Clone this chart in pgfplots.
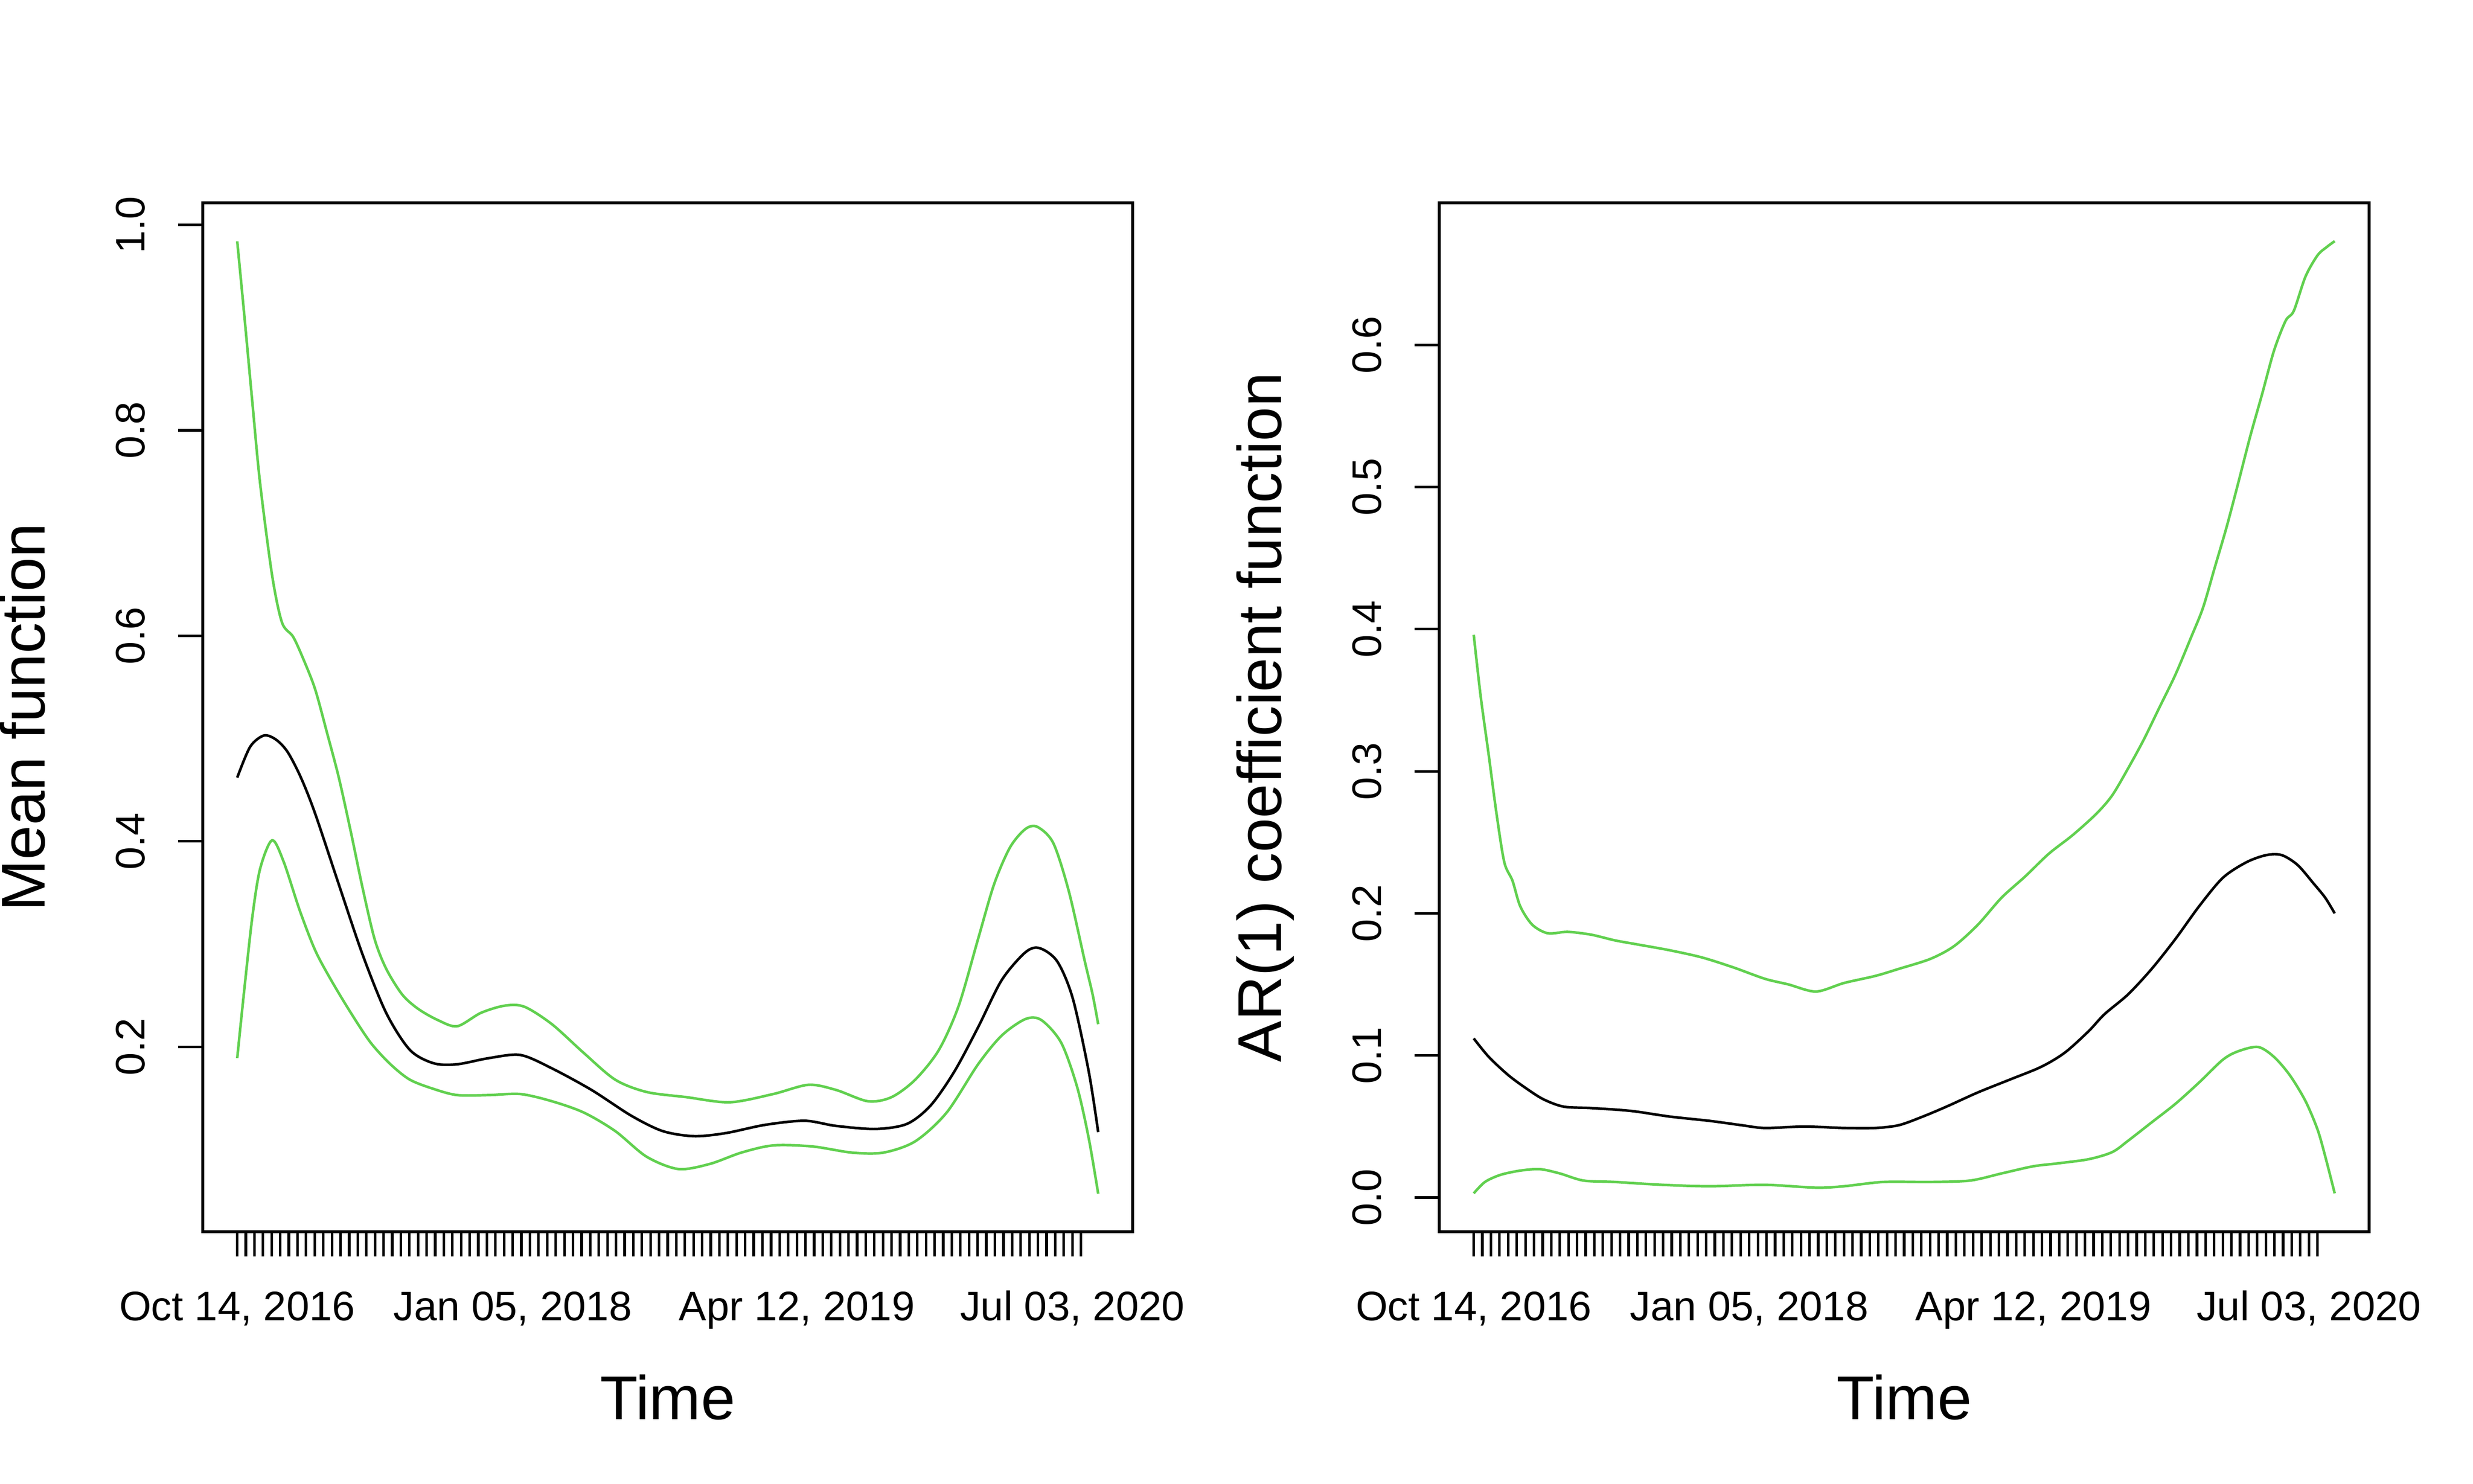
\documentclass[border=0pt]{standalone}
\usepackage{fontspec}
\setmainfont{Liberation Sans}
\usepackage{pgfplots}
\pgfplotsset{compat=1.18}
\definecolor{rgreen}{HTML}{61D04F}

% x is in weeks since Oct 14, 2016 (ticks every two weeks)
\pgfplotsset{rpanel/.style={
  scale only axis, width=270.72bp, height=299.52bp, anchor=south west,
  xmin=-8, xmax=208,
  axis line style={line width=0.75bp},
  every tick/.style={black, line width=0.75bp},
  tick align=outside, xtick pos=left, ytick pos=left,
  major tick length=7.2bp, minor tick length=7.2bp,
  xtick={0,64,130,194},
  xticklabels={{Oct 14, 2016},{Jan 05, 2018},{Apr 12, 2019},{Jul 03, 2020}},
  minor xtick={0,2,...,196},
  tick label style={font=\fontsize{12bp}{14.4bp}\selectfont, inner sep=0pt},
  xticklabel style={anchor=base, yshift=-18.7bp},
  yticklabel style={anchor=base, xshift=-9.7bp, rotate=90},
  label style={font=\fontsize{18bp}{21.6bp}\selectfont, inner sep=0pt},
  xlabel={Time},
  xlabel style={at={(axis description cs:0.5,-0.1823)}, anchor=base},
  ylabel style={at={(axis description cs:-0.1699,0.5)}, anchor=base},
  every axis plot/.append style={line width=0.75bp, smooth, no markers},
}}

\begin{document}
\begin{tikzpicture}
\useasboundingbox (0,0) rectangle (720bp,432bp);

\begin{axis}[rpanel, at={(59.04bp,73.44bp)},
  ymin=0.020, ymax=1.0215,
  ytick={0.2,0.4,0.6,0.8,1.0},
  yticklabels={0.2,0.4,0.6,0.8,1.0},
  ylabel={Mean function}]
% mean
\addplot[black] coordinates {
(0.0,0.462) (3.0,0.492) (6.2,0.503) (9.0,0.499) (11.7,0.487) (14.8,0.462)
(18.1,0.427) (23.6,0.358) (29.1,0.290) (34.6,0.233) (40.1,0.197)
(45.6,0.184) (51.1,0.183) (58.5,0.189) (65.8,0.192) (73.1,0.179)
(82.3,0.158) (91.5,0.133) (98.8,0.118) (106.1,0.113) (113.5,0.116)
(122.6,0.124) (131.8,0.128) (139.1,0.123) (148.3,0.120) (155.6,0.125)
(161.1,0.143) (166.6,0.176) (172.1,0.219) (177.6,0.265) (183.1,0.292)
(186.4,0.296) (190.5,0.283) (194.1,0.247) (197.8,0.176) (200.0,0.117)
};
% upper band
\addplot[rgreen] coordinates {
(0.0,0.984) (1.6,0.914) (3.5,0.828) (5.3,0.749) (8.1,0.659) (10.4,0.613)
(13.0,0.599) (15.4,0.577) (18.1,0.548) (20.9,0.505) (23.6,0.462)
(26.4,0.409) (29.1,0.355) (31.9,0.305) (34.6,0.276) (38.3,0.251)
(42.0,0.237) (46.6,0.226) (51.1,0.220) (56.6,0.233) (62.1,0.240)
(66.7,0.239) (73.1,0.222) (80.5,0.194) (87.8,0.168) (95.1,0.156)
(104.3,0.151) (114.4,0.146) (124.5,0.154) (132.7,0.163) (139.1,0.158)
(146.5,0.147) (152.0,0.151) (157.5,0.168) (163.0,0.197) (167.6,0.240)
(172.1,0.305) (175.8,0.358) (179.5,0.394) (183.1,0.412) (185.9,0.414)
(189.6,0.398) (193.2,0.351) (196.9,0.283) (198.7,0.251) (200.0,0.222)
};
% lower band
\addplot[rgreen] coordinates {
(0.0,0.189) (1.6,0.254) (3.5,0.326) (5.3,0.373) (8.1,0.401) (10.8,0.380)
(14.5,0.333) (18.1,0.294) (21.8,0.265) (26.4,0.233) (31.0,0.204)
(35.6,0.183) (40.1,0.168) (45.6,0.159) (51.1,0.153) (58.5,0.153)
(65.8,0.154) (73.1,0.147) (80.5,0.136) (87.8,0.118) (95.1,0.093)
(102.5,0.081) (109.8,0.086) (117.1,0.097) (124.5,0.104) (133.6,0.103)
(142.8,0.097) (150.1,0.097) (157.5,0.108) (164.8,0.136) (172.1,0.183)
(177.6,0.211) (183.1,0.227) (186.8,0.226) (191.4,0.204) (195.1,0.161)
(197.8,0.111) (200.0,0.057)
};
\end{axis}

\begin{axis}[rpanel, at={(419.04bp,73.44bp)},
  ymin=-0.024, ymax=0.700,
  ytick={0,0.1,0.2,0.3,0.4,0.5,0.6},
  yticklabels={0.0,0.1,0.2,0.3,0.4,0.5,0.6},
  ylabel={AR(1) coefficient function}]
% AR(1) coefficient
\addplot[black] coordinates {
(0.0,0.112) (3.5,0.099) (8.1,0.086) (12.6,0.076) (16.3,0.069) (20.9,0.064)
(27.3,0.063) (36.5,0.061) (45.6,0.057) (54.8,0.054) (62.1,0.051)
(67.6,0.049) (76.8,0.050) (86.0,0.049) (93.3,0.049) (98.8,0.051)
(104.3,0.057) (109.8,0.064) (117.1,0.074) (124.5,0.083) (131.8,0.092)
(137.3,0.102) (142.8,0.117) (146.5,0.129) (152.0,0.143) (157.5,0.161)
(163.0,0.182) (168.5,0.205) (174.0,0.225) (179.5,0.236) (184.1,0.241)
(187.7,0.241) (191.4,0.234) (195.1,0.221) (197.8,0.211) (200.0,0.200)
};
% upper band
\addplot[rgreen] coordinates {
(0.0,0.396) (1.6,0.353) (3.5,0.311) (5.3,0.270) (7.1,0.236) (9.0,0.223)
(10.8,0.205) (13.6,0.192) (17.2,0.186) (21.8,0.187) (27.3,0.185)
(32.8,0.181) (38.3,0.178) (45.6,0.174) (53.0,0.169) (60.3,0.162)
(67.6,0.154) (73.1,0.150) (79.5,0.145) (86.0,0.151) (93.3,0.156)
(98.8,0.161) (106.1,0.168) (111.6,0.177) (117.1,0.192) (122.6,0.211)
(128.1,0.226) (133.6,0.242) (139.1,0.255) (144.6,0.270) (148.3,0.283)
(152.0,0.302) (155.6,0.322) (159.3,0.345) (163.0,0.368) (166.6,0.394)
(169.4,0.415) (172.1,0.443) (174.9,0.472) (177.6,0.503) (180.4,0.536)
(183.1,0.565) (185.9,0.596) (188.6,0.617) (190.5,0.624) (193.2,0.648)
(196.0,0.663) (198.2,0.669) (200.0,0.673)
};
% lower band
\addplot[rgreen] coordinates {
(0.0,0.003) (2.6,0.011) (6.2,0.016) (10.8,0.019) (15.4,0.020) (20.0,0.017)
(25.5,0.012) (32.8,0.011) (43.8,0.009) (54.8,0.008) (67.6,0.009)
(79.5,0.007) (86.0,0.008) (95.1,0.011) (106.1,0.011) (115.3,0.012)
(122.6,0.017) (129.9,0.022) (135.4,0.024) (142.8,0.027) (148.3,0.032)
(152.0,0.040) (157.5,0.053) (163.0,0.066) (168.5,0.081) (174.0,0.097)
(177.6,0.103) (182.2,0.106) (185.9,0.099) (189.6,0.086) (193.2,0.068)
(196.0,0.048) (197.8,0.029) (200.0,0.003)
};
\end{axis}
\end{tikzpicture}
\end{document}
